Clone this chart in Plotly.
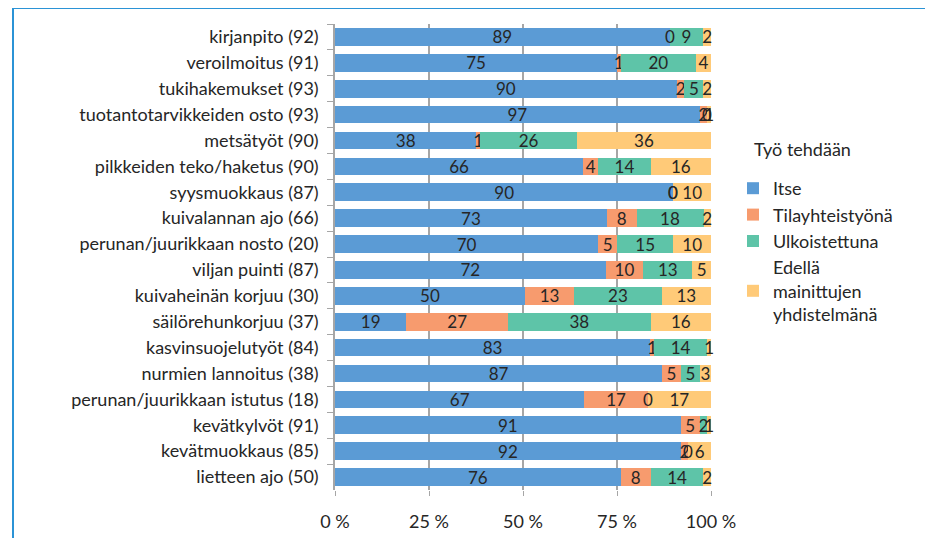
import plotly.graph_objects as go

categories = [
    "kirjanpito (92)", "veroilmoitus (91)", "tukihakemukset (93)",
    "tuotantotarvikkeiden osto (93)", "metsätyöt (90)", "pilkkeiden teko/haketus (90)",
    "syysmuokkaus (87)", "kuivalannan ajo (66)", "perunan/juurikkaan nosto (20)",
    "viljan puinti (87)", "kuivaheinän korjuu (30)", "säilörehunkorjuu (37)",
    "kasvinsuojelutyöt (84)", "nurmien lannoitus (38)", "perunan/juurikkaan istutus (18)",
    "kevätkylvöt (91)", "kevätmuokkaus (85)", "lietteen ajo (50)",
]
itse =            [89, 75, 90, 97, 38, 66, 90, 73, 70, 72, 50, 19, 83, 87, 67, 91, 92, 76]
tilayhteistyona = [0, 1, 2, 2, 1, 4, 0, 8, 5, 10, 13, 27, 1, 5, 17, 5, 2, 8]
ulkoistettuna =   [9, 20, 5, 0, 26, 14, 0, 18, 15, 13, 23, 38, 14, 5, 0, 2, 0, 14]
yhdistelma =      [2, 4, 2, 1, 36, 16, 10, 2, 10, 5, 13, 16, 1, 3, 17, 1, 6, 2]
tick_vals = [0, 25, 50, 75, 100]
tick_text = ["0 %", "25 %", "50 %", "75 %", "100 %"]

series = [
    ("Itse", itse, "#5B9BD5"),
    ("Tilayhteistyönä", tilayhteistyona, "#F79B6E"),
    ("Ulkoistettuna", ulkoistettuna, "#5EC4A8"),
    ("Edellä<br>mainittujen<br>yhdistelmänä", yhdistelma, "#FFCA78"),
]

FONT = "Lato, 'Open Sans', sans-serif"
TXT = "#262626"
fig = go.Figure()
for name, vals, col in series:
    fig.add_trace(go.Bar(
        y=categories, x=vals, name=name, orientation="h",
        marker=dict(color=col, line=dict(width=0)),
        text=[str(v) for v in vals], textposition="inside",
        insidetextanchor="middle", textangle=0,
        textfont=dict(color=TXT, size=17, family=FONT),
        cliponaxis=False,
    ))

# labels for zero-width segments (plotly draws no text for empty bars)
annotations = []
totals = [sum(s[1][i] for s in series) for i in range(len(categories))]
for k, (name, vals, col) in enumerate(series):
    for i, v in enumerate(vals):
        if v == 0:
            start = sum(series[j][1][i] for j in range(k))
            annotations.append(dict(
                x=start / totals[i] * 100, y=categories[i], xref="x", yref="y",
                text="0", showarrow=False, font=dict(size=17, color=TXT, family=FONT),
                xanchor="center", yanchor="middle"))

W, H = 925, 530          # page body adds an 8 px margin
ml, mt = 327, 16
pw, ph = 376, 466
mr, mb = W - ml - pw, H - mt - ph

annotations.append(dict(
    x=(744 - ml) / pw, y=(H - mb - 141) / ph, xref="paper", yref="paper",
    text="Työ tehdään", showarrow=False, xanchor="left", yanchor="middle",
    font=dict(size=18, color=TXT, family=FONT)))

fig.update_layout(
    width=W, height=H, barmode="stack", barnorm="percent", bargap=0.32,
    margin=dict(l=ml, r=mr, t=mt, b=mb, autoexpand=False),
    paper_bgcolor="white", plot_bgcolor="white",
    font=dict(family=FONT, size=18, color=TXT),
    uniformtext=dict(minsize=17, mode="show"),
    xaxis=dict(range=[0, 100.0001], tickmode="array", tickvals=tick_vals, ticktext=tick_text,
               showgrid=True, gridcolor="#A6A6A6", gridwidth=1.5,
               showline=False, ticks="outside", ticklen=5, tickcolor="#A6A6A6",
               zeroline=False, tickfont=dict(size=18), ticklabelstandoff=10,
               automargin=False),
    yaxis=dict(autorange="reversed", showline=True, linecolor="#A6A6A6", linewidth=1.5,
               ticks="outside", tickson="boundaries", ticklen=6, tickcolor="#A6A6A6",
               tickfont=dict(size=18), ticklabelstandoff=11, automargin=False),
    legend=dict(x=(725 - ml) / pw, y=(H - mb - 162) / ph, xanchor="left", yanchor="top",
                traceorder="normal", font=dict(size=18), itemwidth=30),
    annotations=annotations,
    shapes=[dict(type="rect", xref="paper", yref="paper",
                 x0=(5 - ml) / pw, x1=(920 - ml) / pw,
                 y0=(H - mb - 545) / ph, y1=(H - mb - 0) / ph,
                 line=dict(color="#2B93D6", width=2), fillcolor="rgba(0,0,0,0)", layer="below")],
)
fig.write_html("out.html")
